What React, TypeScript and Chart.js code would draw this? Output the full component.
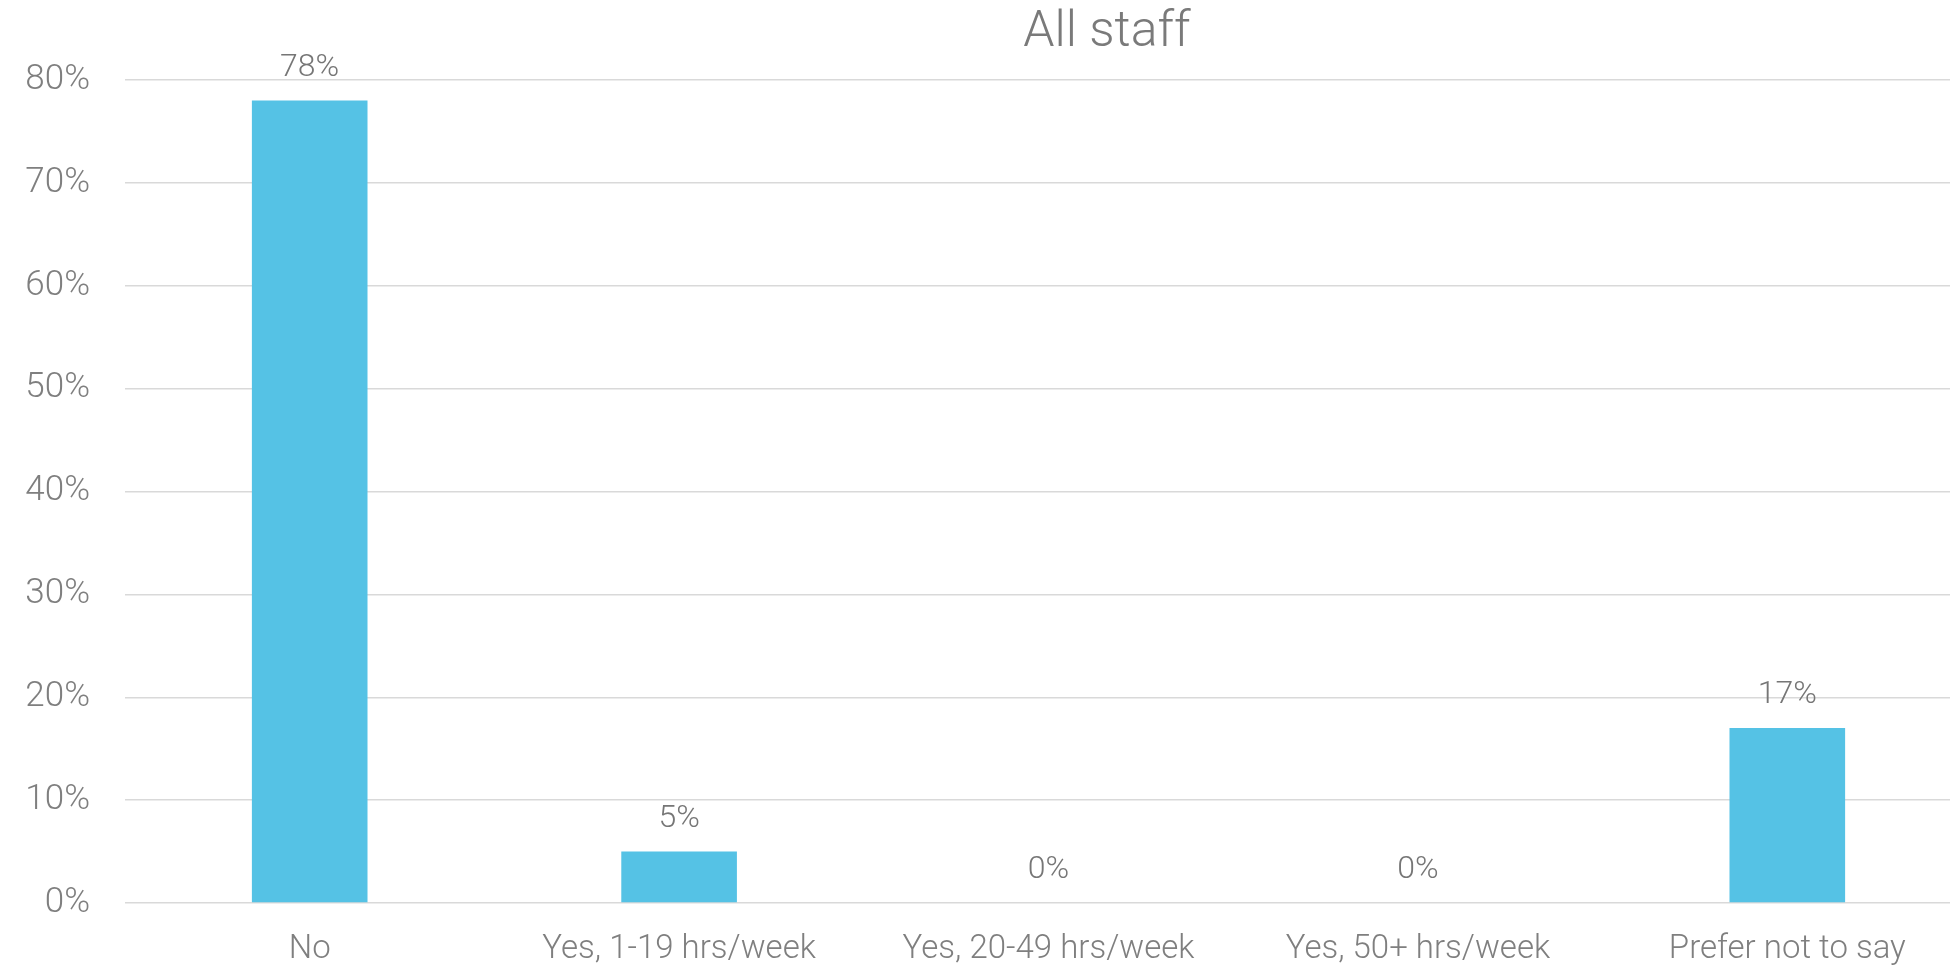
import React, { useEffect, useRef } from "react";
import { Chart, registerables } from "chart.js";

Chart.register(...registerables);

const categories = ["No", "Yes, 1-19 hrs/week", "Yes, 20-49 hrs/week", "Yes, 50+ hrs/week", "Prefer not to say"];
const values = [78, 5, 0, 0, 17];
const titleText = "All staff";
const yMax = 80;
const yStep = 10;

const FONT = "'Roboto', sans-serif";
const GRAY = "#7f7f7f";

export default function App() {
  const ref = useRef<HTMLCanvasElement>(null);
  useEffect(() => {
    document.body.style.margin = "0";
    const labelPlugin = {
      id: "labelsAndTitle",
      afterDatasetsDraw(chart: any) {
        const ctx = chart.ctx;
        const meta = chart.getDatasetMeta(0);
        ctx.save();
        ctx.fillStyle = "#767676";
        ctx.font = `300 32px ${FONT}`;
        ctx.textAlign = "center";
        ctx.textBaseline = "alphabetic";
        meta.data.forEach((bar: any, i: number) => {
          ctx.fillText(values[i] + "%", bar.x, bar.y - 25);
        });
        ctx.font = `300 50px ${FONT}`;
        ctx.fillStyle = "#7a7a7a";
        ctx.fillText(titleText, 1107, 46);
        ctx.restore();
      },
    };
    const chart = new Chart(ref.current!, {
      type: "bar",
      data: {
        labels: categories,
        datasets: [
          {
            data: values,
            backgroundColor: "#55c2e5",
            barPercentage: 0.313,
            categoryPercentage: 1,
          },
        ],
      },
      options: {
        animation: false,
        responsive: false,
        maintainAspectRatio: false,
        layout: { padding: { top: 80, right: 0, bottom: 0, left: 0 } },
        plugins: { legend: { display: false }, tooltip: { enabled: false }, title: { display: false } },
        scales: {
          x: {
            grid: { display: false, drawTicks: false },
            border: { display: false },
            ticks: { color: GRAY, font: { family: FONT, size: 33, weight: "300", lineHeight: 1 }, padding: 30, maxRotation: 0 },
            afterFit: (s: any) => {
              s.height = 62;
            },
          },
          y: {
            min: 0,
            max: yMax,
            ticks: {
              stepSize: yStep,
              color: GRAY,
              font: { family: FONT, size: 35, weight: "300" },
              padding: 35,
              callback: (v: any) => v + "%",
            },
            grid: { color: "#d9d9d9", lineWidth: 1.5, drawTicks: false },
            border: { display: false },
            afterFit: (s: any) => {
              s.width = 125;
            },
          },
        },
      },
      plugins: [labelPlugin],
    });
    return () => chart.destroy();
  }, []);
  return (
    <div style={{ position: "fixed", left: 0, top: 0, width: 1950, height: 965, background: "#fff", overflow: "hidden" }}>
      <canvas ref={ref} width={1972} height={965} style={{ display: "block" }} />
    </div>
  );
}
